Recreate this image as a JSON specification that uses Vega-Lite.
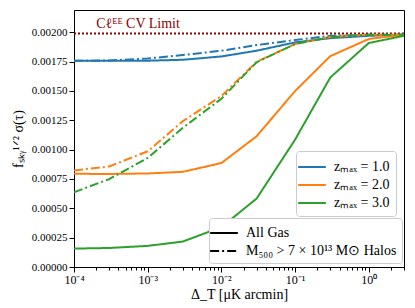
{
  "$schema": "https://vega.github.io/schema/vega-lite/v6.json",
  "autosize": {"type": "none"},
  "width": 330,
  "height": 257,
  "padding": {"left": 74, "top": 10, "right": 11, "bottom": 41},
  "config": {
    "font": "Liberation Serif",
    "view": {"stroke": "black", "strokeWidth": 1},
    "axis": {"grid": false, "domainColor": "black", "tickColor": "black", "labelColor": "black", "titleColor": "black", "labelFontSize": 11, "titleFontSize": 14, "titleFontWeight": "normal", "labelFont": "Liberation Serif", "titleFont": "Liberation Serif"},
    "legend": {"labelFont": "Liberation Serif", "labelFontSize": 14, "labelColor": "black"}
  },
  "datasets": {
    "curves": [
      {"x": 0.0001, "y": 0.001757, "z": "zₘₐₓ = 1.0", "kind": "All Gas"},
      {"x": 0.0003, "y": 0.001757, "z": "zₘₐₓ = 1.0", "kind": "All Gas"},
      {"x": 0.001, "y": 0.001758, "z": "zₘₐₓ = 1.0", "kind": "All Gas"},
      {"x": 0.003, "y": 0.001766, "z": "zₘₐₓ = 1.0", "kind": "All Gas"},
      {"x": 0.01, "y": 0.001794, "z": "zₘₐₓ = 1.0", "kind": "All Gas"},
      {"x": 0.03, "y": 0.001843, "z": "zₘₐₓ = 1.0", "kind": "All Gas"},
      {"x": 0.1, "y": 0.001914, "z": "zₘₐₓ = 1.0", "kind": "All Gas"},
      {"x": 0.3, "y": 0.00195, "z": "zₘₐₓ = 1.0", "kind": "All Gas"},
      {"x": 1, "y": 0.00197, "z": "zₘₐₓ = 1.0", "kind": "All Gas"},
      {"x": 3, "y": 0.00198, "z": "zₘₐₓ = 1.0", "kind": "All Gas"},
      {"x": 0.0001, "y": 0.001757, "z": "zₘₐₓ = 1.0", "kind": "M₅₀₀ > 7 × 10¹³ M⊙ Halos"},
      {"x": 0.0003, "y": 0.00176, "z": "zₘₐₓ = 1.0", "kind": "M₅₀₀ > 7 × 10¹³ M⊙ Halos"},
      {"x": 0.001, "y": 0.001777, "z": "zₘₐₓ = 1.0", "kind": "M₅₀₀ > 7 × 10¹³ M⊙ Halos"},
      {"x": 0.003, "y": 0.001806, "z": "zₘₐₓ = 1.0", "kind": "M₅₀₀ > 7 × 10¹³ M⊙ Halos"},
      {"x": 0.01, "y": 0.001843, "z": "zₘₐₓ = 1.0", "kind": "M₅₀₀ > 7 × 10¹³ M⊙ Halos"},
      {"x": 0.03, "y": 0.001891, "z": "zₘₐₓ = 1.0", "kind": "M₅₀₀ > 7 × 10¹³ M⊙ Halos"},
      {"x": 0.1, "y": 0.001934, "z": "zₘₐₓ = 1.0", "kind": "M₅₀₀ > 7 × 10¹³ M⊙ Halos"},
      {"x": 0.3, "y": 0.00197, "z": "zₘₐₓ = 1.0", "kind": "M₅₀₀ > 7 × 10¹³ M⊙ Halos"},
      {"x": 1, "y": 0.00198, "z": "zₘₐₓ = 1.0", "kind": "M₅₀₀ > 7 × 10¹³ M⊙ Halos"},
      {"x": 3, "y": 0.00198, "z": "zₘₐₓ = 1.0", "kind": "M₅₀₀ > 7 × 10¹³ M⊙ Halos"},
      {"x": 0.0001, "y": 0.000794, "z": "zₘₐₓ = 2.0", "kind": "All Gas"},
      {"x": 0.0003, "y": 0.000793, "z": "zₘₐₓ = 2.0", "kind": "All Gas"},
      {"x": 0.001, "y": 0.000797, "z": "zₘₐₓ = 2.0", "kind": "All Gas"},
      {"x": 0.003, "y": 0.000811, "z": "zₘₐₓ = 2.0", "kind": "All Gas"},
      {"x": 0.01, "y": 0.000886, "z": "zₘₐₓ = 2.0", "kind": "All Gas"},
      {"x": 0.03, "y": 0.001114, "z": "zₘₐₓ = 2.0", "kind": "All Gas"},
      {"x": 0.1, "y": 0.0015, "z": "zₘₐₓ = 2.0", "kind": "All Gas"},
      {"x": 0.3, "y": 0.001797, "z": "zₘₐₓ = 2.0", "kind": "All Gas"},
      {"x": 1, "y": 0.001943, "z": "zₘₐₓ = 2.0", "kind": "All Gas"},
      {"x": 3, "y": 0.00198, "z": "zₘₐₓ = 2.0", "kind": "All Gas"},
      {"x": 0.0001, "y": 0.000823, "z": "zₘₐₓ = 2.0", "kind": "M₅₀₀ > 7 × 10¹³ M⊙ Halos"},
      {"x": 0.0003, "y": 0.000857, "z": "zₘₐₓ = 2.0", "kind": "M₅₀₀ > 7 × 10¹³ M⊙ Halos"},
      {"x": 0.001, "y": 0.000986, "z": "zₘₐₓ = 2.0", "kind": "M₅₀₀ > 7 × 10¹³ M⊙ Halos"},
      {"x": 0.003, "y": 0.001243, "z": "zₘₐₓ = 2.0", "kind": "M₅₀₀ > 7 × 10¹³ M⊙ Halos"},
      {"x": 0.01, "y": 0.001457, "z": "zₘₐₓ = 2.0", "kind": "M₅₀₀ > 7 × 10¹³ M⊙ Halos"},
      {"x": 0.03, "y": 0.001748, "z": "zₘₐₓ = 2.0", "kind": "M₅₀₀ > 7 × 10¹³ M⊙ Halos"},
      {"x": 0.1, "y": 0.0019, "z": "zₘₐₓ = 2.0", "kind": "M₅₀₀ > 7 × 10¹³ M⊙ Halos"},
      {"x": 0.3, "y": 0.00196, "z": "zₘₐₓ = 2.0", "kind": "M₅₀₀ > 7 × 10¹³ M⊙ Halos"},
      {"x": 1, "y": 0.00198, "z": "zₘₐₓ = 2.0", "kind": "M₅₀₀ > 7 × 10¹³ M⊙ Halos"},
      {"x": 3, "y": 0.00198, "z": "zₘₐₓ = 2.0", "kind": "M₅₀₀ > 7 × 10¹³ M⊙ Halos"},
      {"x": 0.0001, "y": 0.000157, "z": "zₘₐₓ = 3.0", "kind": "All Gas"},
      {"x": 0.0003, "y": 0.000162, "z": "zₘₐₓ = 3.0", "kind": "All Gas"},
      {"x": 0.001, "y": 0.00018, "z": "zₘₐₓ = 3.0", "kind": "All Gas"},
      {"x": 0.003, "y": 0.000217, "z": "zₘₐₓ = 3.0", "kind": "All Gas"},
      {"x": 0.01, "y": 0.00034, "z": "zₘₐₓ = 3.0", "kind": "All Gas"},
      {"x": 0.03, "y": 0.000583, "z": "zₘₐₓ = 3.0", "kind": "All Gas"},
      {"x": 0.1, "y": 0.001086, "z": "zₘₐₓ = 3.0", "kind": "All Gas"},
      {"x": 0.3, "y": 0.001615, "z": "zₘₐₓ = 3.0", "kind": "All Gas"},
      {"x": 1, "y": 0.001909, "z": "zₘₐₓ = 3.0", "kind": "All Gas"},
      {"x": 3, "y": 0.00197, "z": "zₘₐₓ = 3.0", "kind": "All Gas"},
      {"x": 0.0001, "y": 0.000637, "z": "zₘₐₓ = 3.0", "kind": "M₅₀₀ > 7 × 10¹³ M⊙ Halos"},
      {"x": 0.0003, "y": 0.000749, "z": "zₘₐₓ = 3.0", "kind": "M₅₀₀ > 7 × 10¹³ M⊙ Halos"},
      {"x": 0.001, "y": 0.000929, "z": "zₘₐₓ = 3.0", "kind": "M₅₀₀ > 7 × 10¹³ M⊙ Halos"},
      {"x": 0.003, "y": 0.001186, "z": "zₘₐₓ = 3.0", "kind": "M₅₀₀ > 7 × 10¹³ M⊙ Halos"},
      {"x": 0.01, "y": 0.001434, "z": "zₘₐₓ = 3.0", "kind": "M₅₀₀ > 7 × 10¹³ M⊙ Halos"},
      {"x": 0.03, "y": 0.001745, "z": "zₘₐₓ = 3.0", "kind": "M₅₀₀ > 7 × 10¹³ M⊙ Halos"},
      {"x": 0.1, "y": 0.0019, "z": "zₘₐₓ = 3.0", "kind": "M₅₀₀ > 7 × 10¹³ M⊙ Halos"},
      {"x": 0.3, "y": 0.00196, "z": "zₘₐₓ = 3.0", "kind": "M₅₀₀ > 7 × 10¹³ M⊙ Halos"},
      {"x": 1, "y": 0.00198, "z": "zₘₐₓ = 3.0", "kind": "M₅₀₀ > 7 × 10¹³ M⊙ Halos"},
      {"x": 3, "y": 0.00198, "z": "zₘₐₓ = 3.0", "kind": "M₅₀₀ > 7 × 10¹³ M⊙ Halos"}
    ],
    "limit": [{"x": 0.0002, "y": 0.00207, "label": "Cℓᴱᴱ CV Limit", "level": 0.00199}]
  },
  "layer": [
    {
      "data": {"name": "limit"},
      "mark": {"type": "rule", "color": "#8b0000", "strokeWidth": 2, "strokeDash": [2, 2]},
      "encoding": {
        "y": {
          "field": "level", "type": "quantitative",
          "scale": {"domain": [0, 0.00219], "nice": false},
          "axis": {
            "title": "fₛₖᵧ¹ᐟ² σ(τ)",
            "values": [0, 0.00025, 0.0005, 0.00075, 0.001, 0.00125, 0.0015, 0.00175, 0.002],
            "format": ".5f", "tickSize": 5, "labelPadding": 2, "titlePadding": 6, "labelOverlap": false
          }
        }
      }
    },
    {
      "data": {"name": "curves"},
      "mark": {"type": "line", "strokeWidth": 2, "clip": true},
      "encoding": {
        "x": {
          "field": "x", "type": "quantitative",
          "scale": {"type": "log", "domain": [0.0001, 3], "nice": false},
          "axis": {
            "orient": "bottom",
            "title": "Δ_T [μK arcmin]",
            "values": [0.0001, 0.001, 0.01, 0.1, 1],
            "labelExpr": "datum.value < 0.0005 ? '10⁻⁴' : datum.value < 0.005 ? '10⁻³' : datum.value < 0.05 ? '10⁻²' : datum.value < 0.5 ? '10⁻¹' : '10⁰'",
            "tickSize": 5, "labelPadding": 2, "titlePadding": 2, "labelFlush": false, "labelFontSize": 12, "labelOverlap": false
          }
        },
        "y": {
          "field": "y", "type": "quantitative",
          "scale": {"domain": [0, 0.00219], "nice": false},
          "axis": {
            "title": "fₛₖᵧ¹ᐟ² σ(τ)",
            "values": [0, 0.00025, 0.0005, 0.00075, 0.001, 0.00125, 0.0015, 0.00175, 0.002],
            "format": ".5f", "tickSize": 5, "labelPadding": 2, "titlePadding": 6, "labelOverlap": false
          }
        },
        "color": {
          "field": "z", "type": "nominal",
          "scale": {"domain": ["zₘₐₓ = 1.0", "zₘₐₓ = 2.0", "zₘₐₓ = 3.0"], "range": ["#1f77b4", "#ff7f0e", "#2ca02c"]},
          "legend": {
            "title": null, "orient": "none", "legendX": 222, "legendY": 141,
            "symbolType": "M-1.6,0H1.6", "symbolSize": 300, "symbolStrokeWidth": 2,
            "symbolDash": [], "rowPadding": 1, "labelOffset": 12, "labelFontSize": 14,
            "fillColor": "white", "strokeColor": "#cccccc", "cornerRadius": 3, "padding": 6
          }
        },
        "strokeDash": {
          "field": "kind", "type": "nominal",
          "scale": {"domain": ["All Gas", "M₅₀₀ > 7 × 10¹³ M⊙ Halos"], "range": [[1, 0], [9, 3, 2, 3]]},
          "legend": {
            "title": null, "orient": "none", "legendX": 135, "legendY": 208,
            "symbolType": "M-1.6,0H1.6", "symbolSize": 300, "symbolStrokeWidth": 2,
            "symbolStrokeColor": "black", "rowPadding": 1, "labelOffset": 12, "labelFontSize": 14,
            "fillColor": "white", "strokeColor": "#cccccc", "cornerRadius": 3, "padding": 5
          }
        }
      }
    },
    {
      "data": {"name": "limit"},
      "mark": {"type": "text", "align": "left", "baseline": "middle", "fontSize": 14, "color": "#8b0000"},
      "encoding": {
        "x": {
          "field": "x", "type": "quantitative",
          "axis": {
            "orient": "bottom", "title": null, "labels": false, "domain": false, "tickSize": 3,
            "values": [0.0002, 0.0003, 0.0004, 0.0005, 0.0006, 0.0007, 0.0008, 0.0009, 0.002, 0.003, 0.004, 0.005, 0.006, 0.007, 0.008, 0.009, 0.02, 0.03, 0.04, 0.05, 0.06, 0.07, 0.08, 0.09, 0.2, 0.3, 0.4, 0.5, 0.6, 0.7, 0.8, 0.9, 2, 3]
          }
        },
        "y": {
          "field": "y", "type": "quantitative",
          "axis": {
            "title": "fₛₖᵧ¹ᐟ² σ(τ)",
            "values": [0, 0.00025, 0.0005, 0.00075, 0.001, 0.00125, 0.0015, 0.00175, 0.002],
            "format": ".5f", "tickSize": 5, "labelPadding": 2, "titlePadding": 6, "labelOverlap": false
          }
        },
        "text": {"field": "label"}
      }
    }
  ],
  "resolve": {"axis": {"x": "independent"}}
}
